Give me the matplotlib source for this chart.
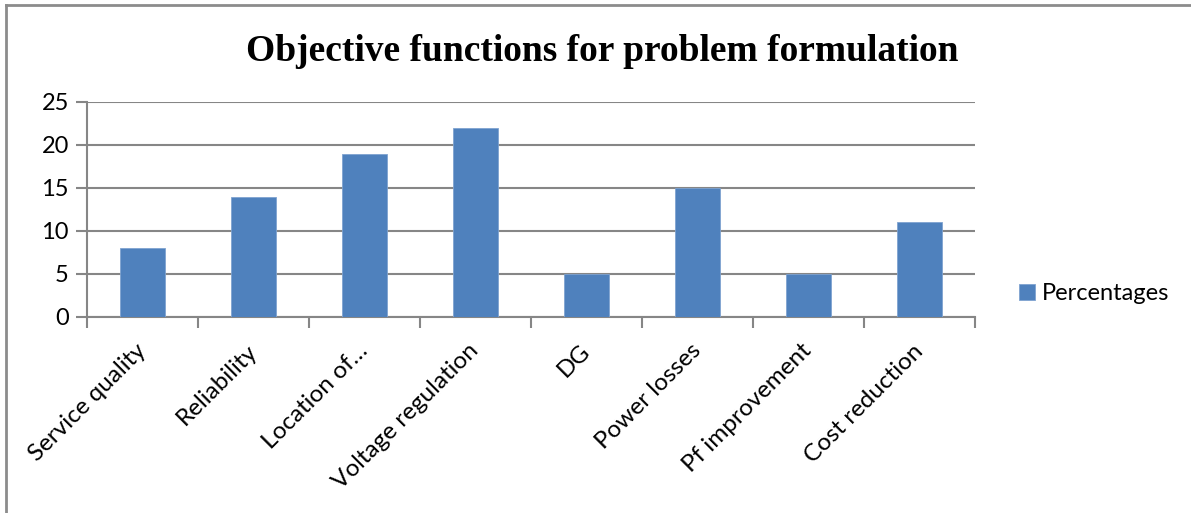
import matplotlib
matplotlib.use("Agg")
import matplotlib.pyplot as plt
from matplotlib.lines import Line2D

# survey counts per objective
categories = ["Service quality", "Reliability", "Location of\u2026", "Voltage regulation",
              "DG", "Power losses", "Pf improvement", "Cost reduction"]
percentages = [8, 14, 19, 22, 5, 15, 5, 11]
yticks = [0, 5, 10, 15, 20, 25]

bar_color = "#4F81BD"
grid_color = "#868686"
label_font = "Lato"

fig = plt.figure(figsize=(11.91, 5.13), dpi=100)
ax = fig.add_axes([0.0730, 0.3821, 0.7456, 0.4191])

x = list(range(len(categories)))
ax.bar(x, percentages, width=0.4, color=bar_color, edgecolor="#7FA3D0",
       linewidth=0.6, label="Percentages", zorder=3)

ax.set_xlim(-0.5, len(categories) - 0.5)
ax.set_ylim(0, 25)
ax.set_yticks(yticks)
ax.set_yticklabels([str(v) for v in yticks], fontsize=17, family=label_font)
ax.yaxis.grid(True, color=grid_color, linewidth=1.5, zorder=0)

# category boundaries get the tick marks, labels sit under each bar
ax.set_xticks([i - 0.5 for i in range(len(categories) + 1)])
ax.set_xticklabels([])
ax.set_xticks(x, minor=True)
ax.set_xticklabels(categories, minor=True, rotation=45, ha="right", va="center",
                   rotation_mode="anchor", fontsize=17.5, family=label_font)
ax.tick_params(axis="x", which="minor", length=0, pad=22)
ax.tick_params(axis="x", which="major", length=8, width=1.5, color=grid_color)
ax.tick_params(axis="y", length=8, width=1.5, color=grid_color, pad=5)

for side in ["top", "right"]:
    ax.spines[side].set_visible(False)
for side in ["left", "bottom"]:
    ax.spines[side].set_color(grid_color)
    ax.spines[side].set_linewidth(1.5)

fig.text(0.506, 0.881, "Objective functions for problem formulation",
         ha="center", va="baseline", fontsize=27, fontweight="bold",
         family="Liberation Serif")

fig.legend(loc="center left", bbox_to_anchor=(0.838, 0.427), frameon=False,
           prop={"family": label_font, "size": 17}, handlelength=0.65,
           handleheight=0.65, handletextpad=0.3)

# chart frame along top and left
fig.add_artist(Line2D([0.005, 0.005], [0.0, 0.99], color="#8c8c8c", linewidth=2))
fig.add_artist(Line2D([0.005, 1.0], [0.99, 0.99], color="#8c8c8c", linewidth=2))

fig.savefig("out.png", dpi=100)
